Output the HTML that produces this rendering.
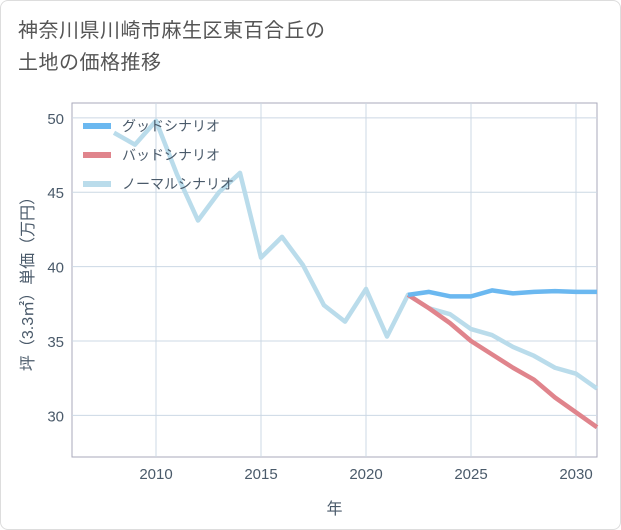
<!DOCTYPE html>
<html><head><meta charset="utf-8"><style>
body{margin:0;background:#fff;font-family:"Liberation Sans","Noto Sans CJK JP",sans-serif;}
#wrap{position:relative;width:619px;height:528px;border:1px solid #ddd;border-radius:8px;background:#fff;overflow:hidden}
#title{position:absolute;left:17px;top:14px;font-size:20px;line-height:32px;color:#555;letter-spacing:0.5px}
</style></head><body>
<div id="wrap">
<div id="title">神奈川県川崎市麻生区東百合丘の<br>土地の価格推移</div>
<svg id="chart" width="621" height="530" style="position:absolute;left:-1px;top:-1px"></svg>
</div>
<script>
const years=[2008,2009,2010,2011,2012,2013,2014,2015,2016,2017,2018,2019,2020,2021,2022,2023,2024,2025,2026,2027,2028,2029,2030,2031];
const normalVals=[49.0,48.2,49.8,46.2,43.1,45.0,46.3,40.6,42.0,40.1,37.4,36.3,38.5,35.3,38.1,37.2,36.8,35.8,35.4,34.6,34.0,33.2,32.8,31.8];
const fYears=[2022,2023,2024,2025,2026,2027,2028,2029,2030,2031];
const goodVals=[38.1,38.3,38.0,38.0,38.4,38.2,38.3,38.35,38.3,38.3];
const badVals=[38.1,37.2,36.2,35.0,34.1,33.2,32.4,31.2,30.2,29.2];
const xTicks=[2010,2015,2020,2025,2030];
const yTicks=[30,35,40,45,50];
const legendLabels=["グッドシナリオ","バッドシナリオ","ノーマルシナリオ"];
const colors=["#6bb8f0","#e0848c","#badceb"];
const L=72,R=597,T=103,B=457,X0=2006,X1=2031,Y0=27.2,Y1=51;
const sx=v=>L+(v-X0)/(X1-X0)*(R-L);
const sy=v=>B-(v-Y0)/(Y1-Y0)*(B-T);
const svg=document.getElementById('chart');const NS="http://www.w3.org/2000/svg";
function mk(t,a,p){const e=document.createElementNS(NS,t);for(const k in a)e.setAttribute(k,a[k]);(p||svg).appendChild(e);return e;}
const bg=mk('rect',{x:L,y:T,width:R-L,height:B-T,fill:'#fff',stroke:'#aab',"stroke-width":1});


xTicks.forEach(t=>{
const g=mk('line',{x1:sx(t),x2:sx(t),y1:T,y2:B,stroke:'#ccd8e4'});


const tx=mk('text',{x:sx(t),y:B+22,"text-anchor":"middle","font-size":15,fill:'#4a5a6a'});tx.textContent=t;


});
yTicks.forEach(t=>{
const g=mk('line',{x1:L,x2:R,y1:sy(t),y2:sy(t),stroke:'#ccd8e4'});


const tx=mk('text',{x:L-8,y:sy(t)+6,"text-anchor":"end","font-size":15,fill:'#4a5a6a'});tx.textContent=t;


});
function line(xs,vs,c,name){
const p=mk('polyline',{points:xs.map((x,i)=>sx(x)+','+sy(vs[i])).join(' '),fill:'none',stroke:c,"stroke-width":4.5,"stroke-linejoin":"round"});


}
line(years,normalVals,colors[2],'normal-series');
line(fYears,badVals,colors[1],'bad-series');
line(fYears,goodVals,colors[0],'good-series');
legendLabels.forEach((lb,i)=>{
const y=126+i*29;
const l=mk('line',{x1:83,x2:111,y1:y,y2:y,stroke:colors[i],"stroke-width":6});


const t=mk('text',{x:122,y:y+5,"font-size":14,fill:'#4a5a6a'});t.textContent=lb;


});
const xt=mk('text',{x:(L+R)/2,y:514,"text-anchor":"middle","font-size":16,fill:'#4a5a6a'});xt.textContent='年';


const yt=mk('text',{x:0,y:0,"text-anchor":"middle","font-size":16,fill:'#4a5a6a',transform:`translate(33,${(T+B)/2}) rotate(-90)`});yt.textContent='坪（3.3㎡）単価（万円）';


</script>
</body></html>
